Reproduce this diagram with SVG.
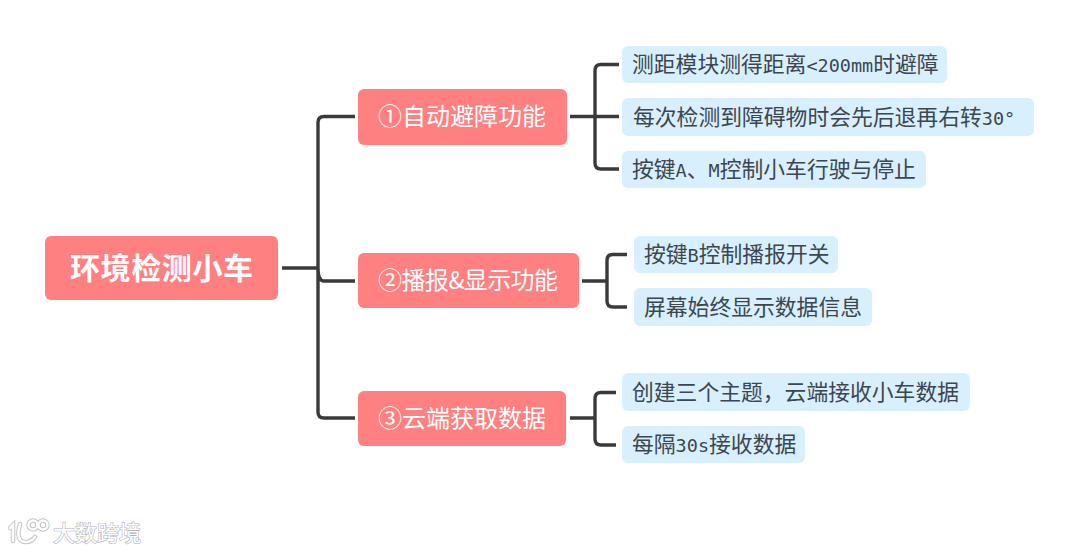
<svg xmlns="http://www.w3.org/2000/svg" width="1080" height="553" viewBox="0 0 1080 553">
<style>
text{font-family:"Noto Sans CJK SC","Noto Sans",sans-serif}
.r{fill:#ff8080}
.l{fill:#d8f0fd}
.t1{font-size:30px;font-weight:700;fill:#fff}
.t2{font-size:24px;fill:#fff}
.t3{font-size:21.800px;fill:#3c4650}
.m{font-family:"DejaVu Sans Mono","Liberation Mono",monospace;font-size:18.500px}
.c{fill:none;stroke:#3a3a3a;stroke-width:3.4;stroke-linecap:butt}
.wm{font-size:22px;fill:#fff;stroke:#b4b4b4;stroke-width:1.2;paint-order:stroke}
.lo{fill:none;stroke:#c4c4c4;stroke-width:4.500;stroke-linecap:round}
.li{fill:none;stroke:#fff;stroke-width:2.600;stroke-linecap:round}
</style>
<defs><g id="logo"><path d="M10 528L13 525V541"/><path d="M20 524Q15 542 26 542Q31 542 35 537"/><circle cx="33" cy="525" r="4.500"/><circle cx="43" cy="525" r="4.500"/></g></defs>
<rect width="1080" height="553" fill="#fff"/>
<g id="connectors">
<path class="c" d="M282 268H318M355 116.500H324Q318 116.500 318 122.500V412Q318 418 324 418H355M318 268Q318 281 324 281H355"/>
<path class="c" d="M570 116.500H619M619 64.500H601Q595 64.500 595 70.500V163Q595 169 601 169H619"/>
<path class="c" d="M582 281H607M627 254.500H613Q607 254.500 607 260.500V301Q607 307 613 307H627"/>
<path class="c" d="M570 418H595M616 392.500H601Q595 392.500 595 398.500V439Q595 445 601 445H616"/>
</g>
<g id="root"><rect class="r" x="45" y="236" width="233" height="64" rx="6"/><text class="t1" x="70" y="279" textLength="183">环境检测小车</text></g>
<g id="n1"><rect class="r" x="358" y="89" width="209" height="56" rx="6"/><text class="t2" x="378" y="125" textLength="168">①自动避障功能</text></g>
<g id="n2"><rect class="r" x="358" y="253" width="221" height="55" rx="6"/><text class="t2" x="378" y="289" textLength="180">②播报&amp;显示功能</text></g>
<g id="n3"><rect class="r" x="358" y="391" width="208" height="55" rx="6"/><text class="t2" x="378" y="427" textLength="168">③云端获取数据</text></g>
<g id="l1"><rect class="l" x="622" y="46" width="325" height="37" rx="6"/><text class="t3" x="632" y="72">测距模块测得距离<tspan class="m">&lt;200mm</tspan>时避障</text></g>
<g id="l2"><rect class="l" x="622" y="98" width="412" height="38" rx="6"/><text class="t3" x="633" y="125">每次检测到障碍物时会先后退再右转<tspan class="m">30°</tspan></text></g>
<g id="l3"><rect class="l" x="622" y="151" width="304" height="37" rx="6"/><text class="t3" x="632" y="177">按键<tspan class="m">A</tspan>、<tspan class="m">M</tspan>控制小车行驶与停止</text></g>
<g id="l4"><rect class="l" x="634" y="236" width="204" height="37" rx="6"/><text class="t3" x="644" y="262">按键<tspan class="m">B</tspan>控制播报开关</text></g>
<g id="l5"><rect class="l" x="634" y="288" width="238" height="38" rx="6"/><text class="t3" x="644" y="315" textLength="218">屏幕始终显示数据信息</text></g>
<g id="l6"><rect class="l" x="622" y="373" width="348" height="38" rx="6"/><text class="t3" x="632" y="400" textLength="327">创建三个主题，云端接收小车数据</text></g>
<g id="l7"><rect class="l" x="622" y="426" width="183" height="37" rx="6"/><text class="t3" x="632" y="452">每隔<tspan class="m">30s</tspan>接收数据</text></g>
<g id="watermark">
<use href="#logo" class="lo"/><use href="#logo" class="li"/>
<text class="wm" x="53" y="541" textLength="88">大数跨境</text>
</g>
</svg>
